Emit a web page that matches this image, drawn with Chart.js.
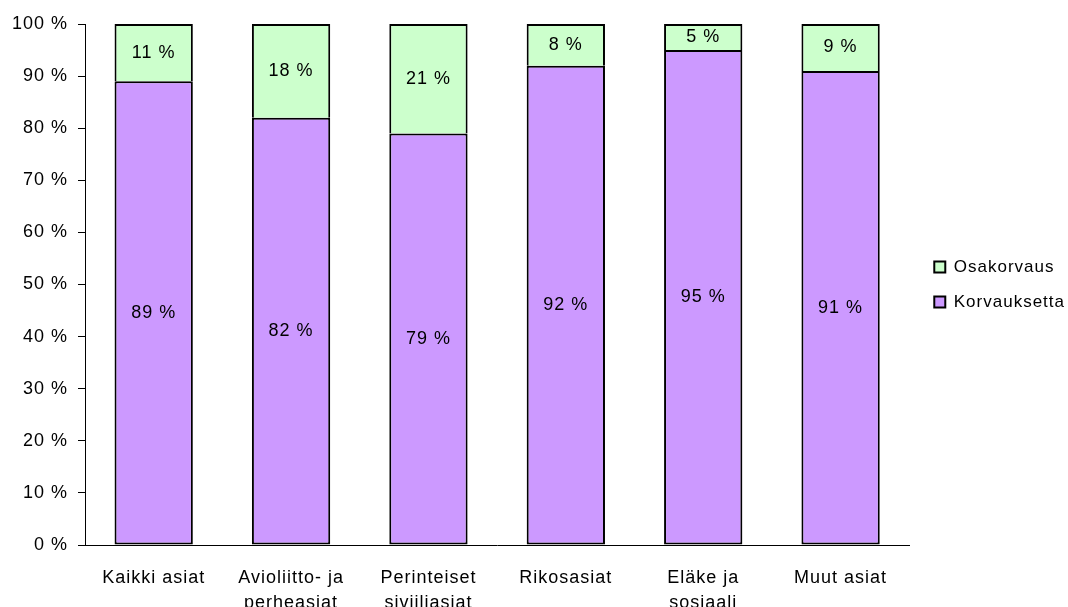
<!DOCTYPE html>
<html>
<head>
<meta charset="utf-8">
<script src="https://cdn.jsdelivr.net/npm/chart.js@4/dist/chart.umd.min.js"></script>
<style>
  html, body { margin: 0; padding: 0; background: #fff; overflow: hidden; }
  #wrap { width: 1068px; height: 607px; }
</style>
</head>
<body>
<div id="wrap"><canvas id="myChart"></canvas></div>
<script>
const categories = [
  "Kaikki asiat",
  ["Avioliitto- ja", "perheasiat"],
  ["Perinteiset", "siviiliasiat"],
  "Rikosasiat",
  ["Eläke ja", "sosiaali"],
  "Muut asiat",
];
const korvauksetta = [89, 82, 79, 92, 95, 91];
const osakorvaus = [11, 18, 21, 8, 5, 9];
const yTicks = [0, 10, 20, 30, 40, 50, 60, 70, 80, 90, 100];

// the original has slightly wider letter spacing, keep it on the context
const spacing = {
  id: "spacing",
  beforeLayout(chart) { chart.ctx.letterSpacing = "1px"; },
  beforeDraw(chart) { chart.ctx.letterSpacing = "1px"; },
};

// legend sits next to the plot, centred on the plot height
const legendPlace = {
  id: "legendPlace",
  afterLayout(chart) {
    const lg = chart.legend;
    const area = chart.chartArea;
    lg.left = area.right + 7;
    lg.top = area.top;
    lg.bottom = area.bottom;
  },
};

// puts the percentage in the middle of every segment
const segmentLabels = {
  id: "segmentLabels",
  afterDatasetsDraw(chart) {
    const ctx = chart.ctx;
    ctx.save();
    ctx.font = "18px 'Liberation Sans', Arial, sans-serif";
    ctx.fillStyle = "#000";
    ctx.textAlign = "center";
    ctx.textBaseline = "middle";
    chart.data.datasets.forEach((ds, i) => {
      chart.getDatasetMeta(i).data.forEach((bar, j) => {
        const mid = (bar.y + bar.base) / 2;
        ctx.fillText(`${ds.data[j]} %`, bar.x, mid);
      });
    });
    ctx.restore();
  },
};

Chart.defaults.font.family = "'Liberation Sans', Arial, sans-serif";
Chart.defaults.color = "#000";

let ctx = document.getElementById("myChart").getContext("2d");
let myChart = new Chart(ctx, {
  type: "bar",
  data: {
    labels: categories,
    datasets: [
      {
        label: "Korvauksetta",
        data: korvauksetta,
        backgroundColor: "#CC99FF",
        borderColor: "#000",
        borderWidth: 2,
        borderSkipped: false,
      },
      {
        label: "Osakorvaus",
        data: osakorvaus,
        backgroundColor: "#CCFFCC",
        borderColor: "#000",
        borderWidth: 2,
        borderSkipped: "bottom",
      },
    ],
  },
  options: {
    responsive: true,
    maintainAspectRatio: false,
    animation: false,
    categoryPercentage: 1,
    barPercentage: 0.57,
    layout: { padding: { top: 24, right: 0, bottom: 0, left: 0 } },
    plugins: {
      tooltip: { enabled: false },
      legend: {
        position: "right",
        reverse: true,
        maxWidth: 161,
        labels: {
          font: { size: 17 },
          boxWidth: 11,
          boxHeight: 11,
          padding: 18,
          useBorderRadius: false,
        },
      },
    },
    scales: {
      x: {
        stacked: true,
        grid: { display: false, drawTicks: false },
        border: { display: true, color: "#000", width: 1 },
        ticks: { font: { size: 18, lineHeight: 1.4 }, padding: 20, maxRotation: 0, autoSkip: false },
        afterFit(scale) { scale.height = 62; },
      },
      y: {
        stacked: true,
        min: 0,
        max: 100,
        afterBuildTicks(scale) { scale.ticks = yTicks.map((v) => ({ value: v })); },
        grid: { drawOnChartArea: false, drawTicks: true, tickLength: 7, color: "#000" },
        border: { display: true, color: "#000", width: 1 },
        ticks: {
          font: { size: 18 },
          padding: 10,
          callback: (v) => `${v} %`,
        },
        afterFit(scale) { scale.width = 85; },
      },
    },
  },
  plugins: [spacing, legendPlace, segmentLabels],
});
</script>
</body>
</html>
